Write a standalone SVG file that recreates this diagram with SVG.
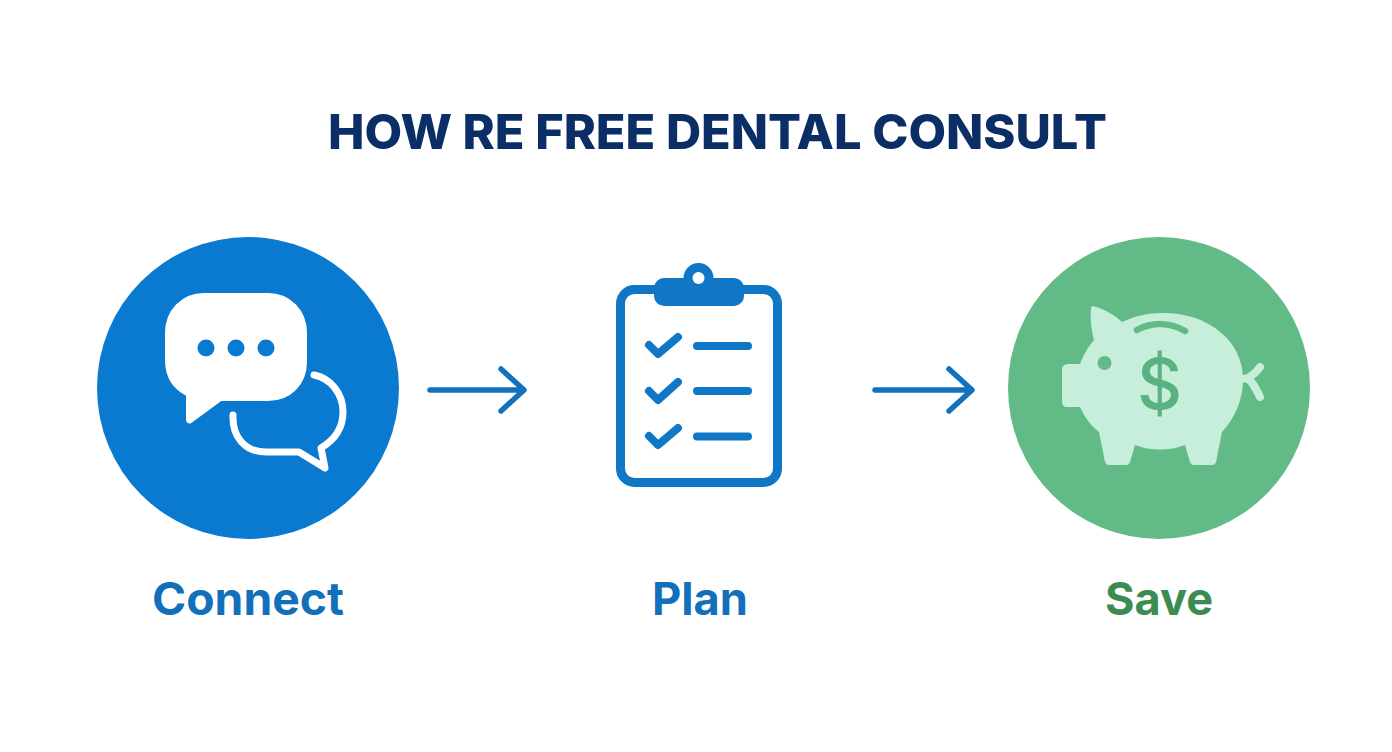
<svg xmlns="http://www.w3.org/2000/svg" width="1392" height="752" viewBox="0 0 1392 752">
<style>
text{font-family:"Inter","Liberation Sans",sans-serif;font-weight:700}
.lab{font-size:45px}
.arrow{fill:none;stroke:#1272BE;stroke-width:5.5;stroke-linecap:round;stroke-linejoin:round}
.cb{fill:none;stroke:#0F77C6;stroke-linecap:round;stroke-linejoin:round}
</style>
<rect width="1392" height="752" fill="#fff"/>
<text id="title" x="328" y="149" font-size="48" fill="#0B2E66" textLength="779" lengthAdjust="spacingAndGlyphs" style="font-weight:800">HOW RE FREE DENTAL CONSULT</text>
<g id="connect">
<circle cx="248" cy="388" r="151" fill="#0A7AD0"/>
<path fill="#fff" stroke="#fff" stroke-width="2" stroke-linejoin="round" d="M204 294H268C290 294 306 311 306 333V362C306 384 290 400 268 400H221L191 422C189 423 187 422 187 420V395C173 388 166 376 166 360V333C166 311 182 294 204 294Z"/>
<circle cx="206" cy="348" r="8.5" fill="#0A7AD0"/>
<circle cx="236" cy="348" r="8.5" fill="#0A7AD0"/>
<circle cx="266" cy="348" r="8.5" fill="#0A7AD0"/>
<path fill="none" stroke="#fff" stroke-width="7" stroke-linecap="round" stroke-linejoin="round" d="M233 415C232 437 245 452 266 452H299L325 468L321 448C336 439 343 426 343 412C343 393 330 378 314 375"/>
<text class="lab" x="152" y="615" fill="#1270BB" textLength="192" lengthAdjust="spacingAndGlyphs">Connect</text>
</g>
<g id="plan">
<rect x="620.500" y="289.500" width="157" height="193" rx="14" fill="#fff" stroke="#0F77C6" stroke-width="9"/>
<circle cx="698.500" cy="278" r="15" fill="#0F77C6"/>
<rect x="654" y="278" width="90" height="28" rx="10" fill="#0F77C6"/>
<circle cx="698.500" cy="278" r="6" fill="#fff"/>
<g class="cb" stroke-width="8">
<path d="M649 345L658 354L678 337M697 346H748"/>
<path d="M649 391L658 400L678 382M697 391H748"/>
<path d="M649 436L658 445L678 428M697 436.500H748"/>
</g>
<text class="lab" x="652" y="615" fill="#1270BB" textLength="96" lengthAdjust="spacingAndGlyphs">Plan</text>
</g>
<g id="save">
<circle cx="1159" cy="388" r="151" fill="#62BA87"/>
<path fill="#C6EEDB" d="M1093 306C1104 309 1115 315 1122 322C1135 316 1148 313 1163 313C1210 313 1243 342 1243 379C1243 400 1235 418 1222 432L1216 462Q1215 465 1212 465H1194Q1191 465 1190 462L1185 445C1169 451 1151 451 1135 445L1130 462Q1129 465 1126 465H1109Q1106 465 1105 462L1099 432C1090 425 1084 416 1080 407H1067Q1062 407 1062 402V369Q1062 365 1067 364H1080C1084 354 1088 347 1094 340C1091 329 1090 317 1091 308Q1091 306 1093 306Z"/>
<path fill="none" stroke="#C6EEDB" stroke-width="8" stroke-linecap="round" d="M1242 379C1250 379 1255 374 1260 367M1248 379C1253 382 1256 389 1260 397"/>
<circle cx="1104.500" cy="363" r="7" fill="#62BA87"/>
<path fill="none" stroke="#62BA87" stroke-width="6.500" stroke-linecap="round" d="M1137 330C1152 322 1170 322 1185 331"/>
<text x="1159.500" y="409" font-size="70" text-anchor="middle" fill="#5AB181" style="font-weight:500">$</text>
<text class="lab" x="1105" y="615" fill="#3A8C50" textLength="108" lengthAdjust="spacingAndGlyphs">Save</text>
</g>
<g id="connectors">
<path class="arrow" d="M430 390H522M501 369L524 390L501 411"/>
<path class="arrow" d="M875 390H970M949 369L972 390L949 411"/>
</g>
</svg>
